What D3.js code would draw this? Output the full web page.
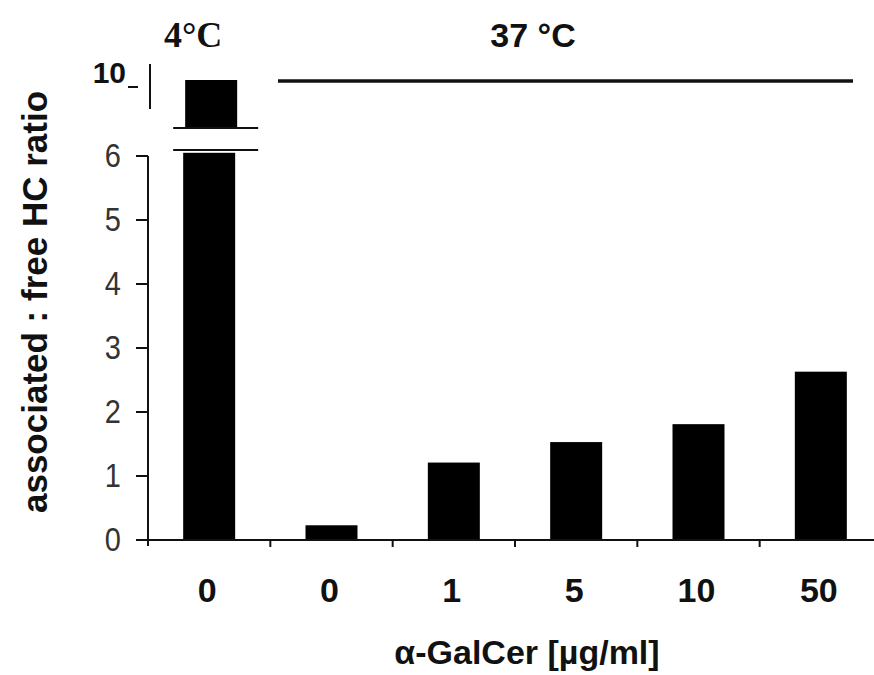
<!DOCTYPE html>
<html>
<head>
<meta charset="utf-8">
<script src="https://cdn.jsdelivr.net/npm/d3@7"></script>
<style>
  body { margin: 0; background: #fff; }
  svg { display: block; }
  text { font-family: "Liberation Sans", Arial, sans-serif; fill: #111; }
</style>
</head>
<body>
<svg id="chart" width="874" height="675"></svg>
<script>
// Data
const doses = ["0", "0", "1", "5", "10", "50"];
const temps = ["4°C", "37 °C", "37 °C", "37 °C", "37 °C", "37 °C"];
const ratios = [10.12, 0.23, 1.21, 1.53, 1.81, 2.63];
const lowerTicks = [0, 1, 2, 3, 4, 5, 6];
const upperTicks = [10];

const svg = d3.select('#chart');
const ink = '#111';

// Scales
const x = d3.scaleBand()
    .domain(d3.range(doses.length))
    .range([148, 882])
    .paddingInner(0.575)
    .paddingOuter(0.2875);

const y = d3.scaleLinear().domain([0, 6]).range([540, 156]);     // lower segment
const yUp = d3.scaleLinear().domain([9.5, 10.5]).range([111, 61]); // upper segment (broken axis)

const breakTop = 128, breakBottom = 150;
const lowerMax = 6.05;

// -------------------------------------------------------------------------
// Bars
// -------------------------------------------------------------------------
const bars = svg.append('g');

// lower part of each bar (clipped at top of lower axis)
bars.selectAll('.bar')
    .data(ratios)
    .enter().append('rect')
    .attr('class', 'bar')
    .attr('x', (d, i) => x(i))
    .attr('width', x.bandwidth())
    .attr('y', d => y(Math.min(d, lowerMax)))
    .attr('height', d => y(0) - y(Math.min(d, lowerMax)))
    .attr('fill', '#000');

// upper part for bars beyond the break
const tall = ratios.map((d, i) => ({v: d, i})).filter(d => d.v > lowerMax);
bars.selectAll('.bar-up')
    .data(tall)
    .enter().append('rect')
    .attr('class', 'bar-up')
    .attr('x', d => x(d.i) + 2)
    .attr('width', x.bandwidth())
    .attr('y', d => yUp(d.v))
    .attr('height', d => breakTop - yUp(d.v))
    .attr('fill', '#000');

// break marks
tall.forEach(d => {
    [breakTop, breakBottom].forEach(yy => {
        svg.append('line')
            .attr('x1', x(d.i) - 10).attr('x2', x(d.i) + x.bandwidth() + 23)
            .attr('y1', yy).attr('y2', yy)
            .attr('stroke', ink).attr('stroke-width', 2.2);
    });
});

// -------------------------------------------------------------------------
// Axes
// -------------------------------------------------------------------------
const axisX = 148;

// lower y axis
svg.append('line')
    .attr('x1', axisX).attr('x2', axisX)
    .attr('y1', y(6)).attr('y2', y(0) + 6)
    .attr('stroke', ink).attr('stroke-width', 2);

svg.selectAll('.ytick')
    .data(lowerTicks)
    .enter().append('line')
    .attr('x1', axisX - 12).attr('x2', axisX)
    .attr('y1', d => y(d)).attr('y2', d => y(d))
    .attr('stroke', ink).attr('stroke-width', 2);

svg.selectAll('.ylab')
    .data(lowerTicks)
    .enter().append('text')
    .attr('transform', d => `translate(121, ${y(d) + 11}) scale(1, 1.12)`)
    .attr('text-anchor', 'end')
    .style('font-size', '29px')
    .style('fill', '#333')
    .text(d => d);

// upper y axis segment
svg.append('line')
    .attr('x1', 150).attr('x2', 150)
    .attr('y1', yUp(10.44)).attr('y2', yUp(9.54))
    .attr('stroke', ink).attr('stroke-width', 2);

svg.selectAll('.ytick-up')
    .data(upperTicks)
    .enter().append('line')
    .attr('x1', 128).attr('x2', 138)
    .attr('y1', d => yUp(d) + 1).attr('y2', d => yUp(d) + 1)
    .attr('stroke', ink).attr('stroke-width', 2);

svg.selectAll('.ylab-up')
    .data(upperTicks)
    .enter().append('text')
    .attr('transform', d => `translate(126, ${yUp(d) - 3})`)
    .attr('text-anchor', 'end')
    .style('font-size', '30px')
    .style('font-weight', 'bold')
    .text(d => d);

// x axis
svg.append('line')
    .attr('x1', axisX - 12).attr('x2', 874)
    .attr('y1', y(0)).attr('y2', y(0))
    .attr('stroke', ink).attr('stroke-width', 2);

svg.selectAll('.xtick')
    .data(d3.range(1, doses.length))
    .enter().append('line')
    .attr('x1', i => x(i) - x.step() * x.paddingInner() / 2)
    .attr('x2', i => x(i) - x.step() * x.paddingInner() / 2)
    .attr('y1', y(0)).attr('y2', y(0) + 7)
    .attr('stroke', ink).attr('stroke-width', 2);

svg.selectAll('.xlab')
    .data(doses)
    .enter().append('text')
    .attr('x', (d, i) => x(i) + x.bandwidth() / 2 - 2)
    .attr('y', 602)
    .attr('text-anchor', 'middle')
    .style('font-size', '34px')
    .style('font-weight', 'bold')
    .text(d => d);

// -------------------------------------------------------------------------
// Titles
// -------------------------------------------------------------------------
svg.append('text')
    .attr('x', 527).attr('y', 664)
    .attr('text-anchor', 'middle')
    .style('font-size', '34px')
    .style('font-weight', 'bold')
    .text('α-GalCer [µg/ml]');

svg.append('text')
    .attr('transform', 'translate(47, 302) rotate(-90)')
    .attr('text-anchor', 'middle')
    .style('font-size', '35px')
    .style('font-weight', 'bold')
    .text('associated : free HC ratio');

// temperature groups
const first37 = temps.indexOf('37 °C');
svg.append('text')
    .attr('x', x(0) + x.bandwidth() / 2 - 16).attr('y', 47)
    .attr('text-anchor', 'middle')
    .style('font-family', '"Liberation Serif", "Times New Roman", serif')
    .style('font-size', '36px')
    .style('font-weight', 'bold')
    .text(temps[0]);

svg.append('text')
    .attr('x', 533).attr('y', 47)
    .attr('text-anchor', 'middle')
    .style('font-size', '34px')
    .style('font-weight', 'bold')
    .text(temps[first37]);

svg.append('line')
    .attr('x1', 278).attr('x2', 853)
    .attr('y1', 81).attr('y2', 81)
    .attr('stroke', ink).attr('stroke-width', 3.5);
</script>
</body>
</html>
